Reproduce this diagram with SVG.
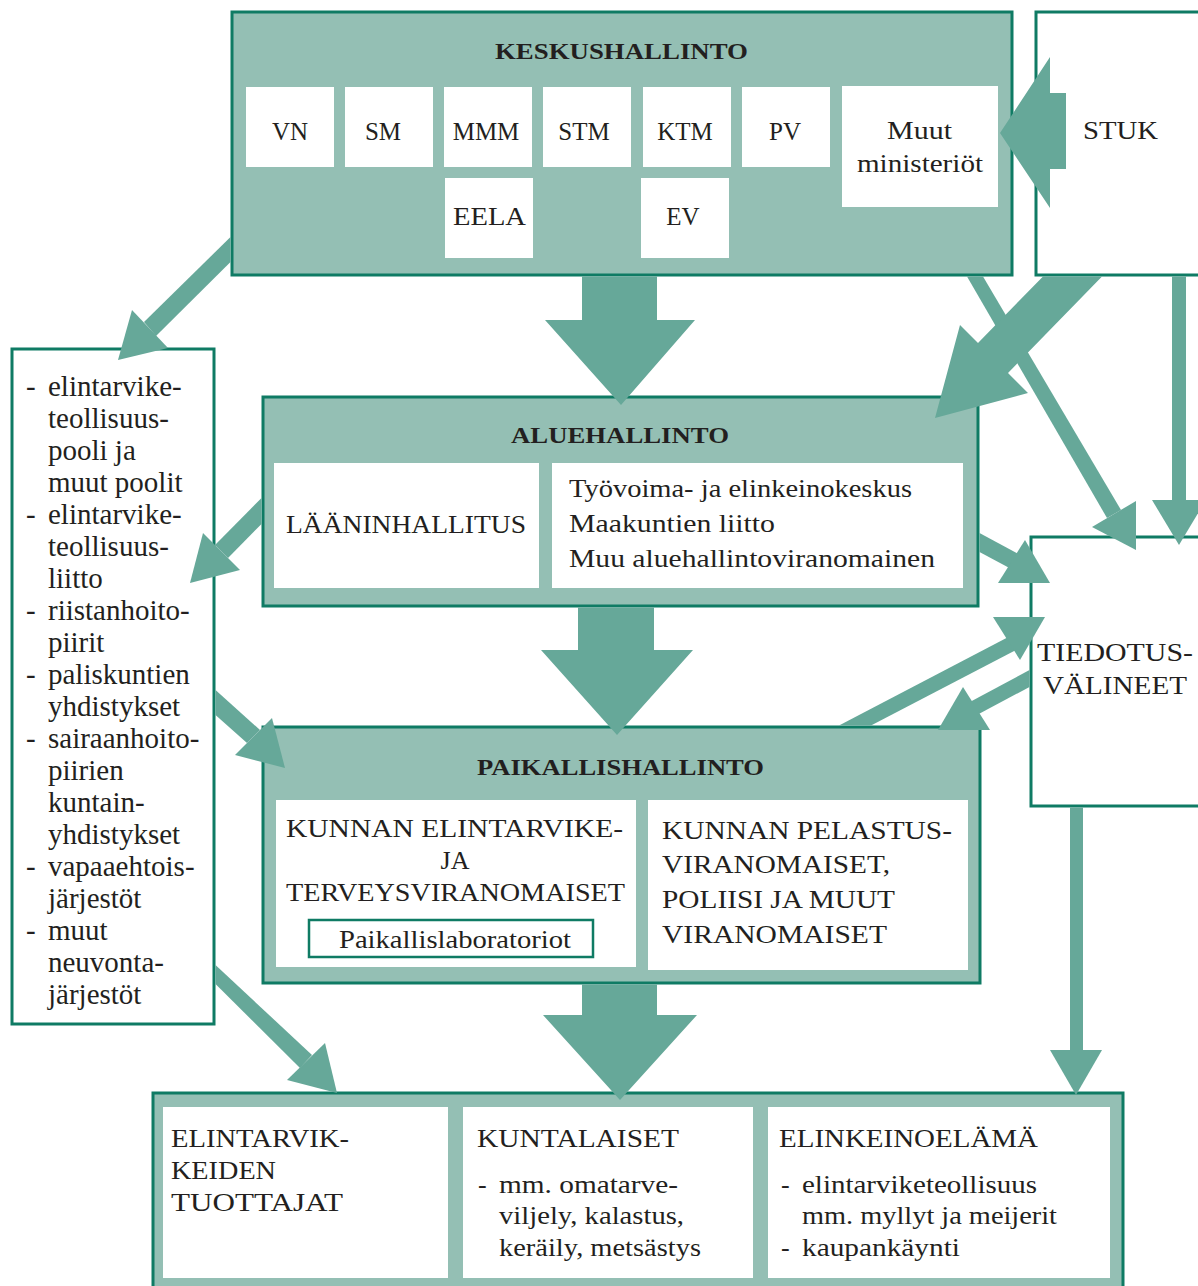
<svg xmlns="http://www.w3.org/2000/svg" width="1198" height="1286" viewBox="0 0 1198 1286" font-family="'Liberation Serif', 'Times New Roman', serif">
<style>
.panel{fill:#94bfb4;stroke:#0f7b64;stroke-width:3}
.wbox{fill:#ffffff;stroke:#0f7b64;stroke-width:3}
.inner{fill:#ffffff}
.arrow{fill:#66a899}
text{font-family:"Liberation Serif","Times New Roman",serif;fill:#231f20}
.t{font-size:24px;font-weight:bold}
.m{font-size:25px}
.s{font-size:26px}
.l{font-size:29px}
.c{text-anchor:middle}
</style>
<rect width="1198" height="1286" fill="#ffffff"/>

<g id="keskushallinto">
<rect class="panel" x="232" y="12" width="780" height="263"/>
<text class="t" x="495" y="59" textLength="253" lengthAdjust="spacingAndGlyphs">KESKUSHALLINTO</text>
<g id="vn"><rect class="inner" x="246" y="87" width="88" height="80"/><text class="m c" x="290" y="140">VN</text></g>
<g id="sm"><rect class="inner" x="345" y="87" width="88" height="80"/><text class="m c" x="383" y="140">SM</text></g>
<g id="mmm"><rect class="inner" x="444" y="87" width="88" height="80"/><text class="m c" x="486" y="140">MMM</text></g>
<g id="stm"><rect class="inner" x="543" y="87" width="88" height="80"/><text class="m c" x="584" y="140">STM</text></g>
<g id="ktm"><rect class="inner" x="643" y="87" width="88" height="80"/><text class="m c" x="685" y="140">KTM</text></g>
<g id="pv"><rect class="inner" x="742" y="87" width="88" height="80"/><text class="m c" x="785" y="140">PV</text></g>
<g id="muut"><rect class="inner" x="842" y="86" width="156" height="121"/><text class="m" x="887" y="139" textLength="65" lengthAdjust="spacingAndGlyphs">Muut</text><text class="m" x="857" y="172" textLength="126" lengthAdjust="spacingAndGlyphs">ministeriöt</text></g>
<g id="eela"><rect class="inner" x="445" y="178" width="88" height="80"/><text class="m" x="453" y="225" textLength="73" lengthAdjust="spacingAndGlyphs">EELA</text></g>
<g id="ev"><rect class="inner" x="641" y="178" width="88" height="80"/><text class="m c" x="683" y="225">EV</text></g>
</g>

<g id="stuk">
<rect class="wbox" x="1036" y="12" width="175" height="263"/>
<text class="m" x="1083" y="139" textLength="75" lengthAdjust="spacingAndGlyphs">STUK</text>
</g>

<g id="aluehallinto">
<rect class="panel" x="263" y="397" width="715" height="209"/>
<text class="t" x="511" y="443" textLength="218" lengthAdjust="spacingAndGlyphs">ALUEHALLINTO</text>
<rect class="inner" x="274" y="463" width="265" height="125"/>
<text class="m" x="286" y="533" textLength="240" lengthAdjust="spacingAndGlyphs">LÄÄNINHALLITUS</text>
<rect class="inner" x="552" y="463" width="411" height="125"/>
<text class="s" x="569" y="497" textLength="343" lengthAdjust="spacingAndGlyphs">Työvoima- ja elinkeinokeskus</text>
<text class="s" x="569" y="532" textLength="206" lengthAdjust="spacingAndGlyphs">Maakuntien liitto</text>
<text class="s" x="569" y="567" textLength="366" lengthAdjust="spacingAndGlyphs">Muu aluehallintoviranomainen</text>
</g>

<g id="paikallishallinto">
<rect class="panel" x="263" y="727" width="717" height="256"/>
<text class="t" x="477" y="775" textLength="287" lengthAdjust="spacingAndGlyphs">PAIKALLISHALLINTO</text>
<rect class="inner" x="276" y="800" width="360" height="167"/>
<text class="s" x="286" y="837" textLength="337" lengthAdjust="spacingAndGlyphs">KUNNAN ELINTARVIKE-</text>
<text class="s c" x="455" y="869">JA</text>
<text class="s" x="286" y="901" textLength="339" lengthAdjust="spacingAndGlyphs">TERVEYSVIRANOMAISET</text>
<rect x="309" y="920" width="284" height="37" fill="#ffffff" stroke="#0f7b64" stroke-width="2.5"/>
<text class="m" x="339" y="948" textLength="232" lengthAdjust="spacingAndGlyphs">Paikallislaboratoriot</text>
<rect class="inner" x="648" y="800" width="320" height="170"/>
<text class="s" x="662" y="839" textLength="290" lengthAdjust="spacingAndGlyphs">KUNNAN PELASTUS-</text>
<text class="s" x="662" y="873" textLength="228" lengthAdjust="spacingAndGlyphs">VIRANOMAISET,</text>
<text class="s" x="662" y="908" textLength="233" lengthAdjust="spacingAndGlyphs">POLIISI JA MUUT</text>
<text class="s" x="662" y="943" textLength="225" lengthAdjust="spacingAndGlyphs">VIRANOMAISET</text>
</g>

<g id="tiedotusvalineet">
<rect class="wbox" x="1031" y="537" width="180" height="269"/>
<text class="s" x="1037" y="661" textLength="156" lengthAdjust="spacingAndGlyphs">TIEDOTUS-</text>
<text class="s" x="1043" y="694" textLength="144" lengthAdjust="spacingAndGlyphs">VÄLINEET</text>
</g>

<g id="jarjestot">
<rect class="wbox" x="12" y="349" width="202" height="675"/>
<g class="l">
<text x="26" y="396">-</text><text x="48" y="396">elintarvike-</text>
<text x="48" y="428">teollisuus-</text>
<text x="48" y="460">pooli ja</text>
<text x="48" y="492">muut poolit</text>
<text x="26" y="524">-</text><text x="48" y="524">elintarvike-</text>
<text x="48" y="556">teollisuus-</text>
<text x="48" y="588">liitto</text>
<text x="26" y="620">-</text><text x="48" y="620">riistanhoito-</text>
<text x="48" y="652">piirit</text>
<text x="26" y="684">-</text><text x="48" y="684">paliskuntien</text>
<text x="48" y="716">yhdistykset</text>
<text x="26" y="748">-</text><text x="48" y="748">sairaanhoito-</text>
<text x="48" y="780">piirien</text>
<text x="48" y="812">kuntain-</text>
<text x="48" y="844">yhdistykset</text>
<text x="26" y="876">-</text><text x="48" y="876">vapaaehtois-</text>
<text x="48" y="908">järjestöt</text>
<text x="26" y="940">-</text><text x="48" y="940">muut</text>
<text x="48" y="972">neuvonta-</text>
<text x="48" y="1004">järjestöt</text>
</g>
</g>

<g id="kohderyhmat">
<rect class="panel" x="153" y="1093" width="970" height="215"/>
<g id="tuottajat">
<rect class="inner" x="163" y="1107" width="285" height="171"/>
<text class="s" x="171" y="1147" textLength="178" lengthAdjust="spacingAndGlyphs">ELINTARVIK-</text>
<text class="s" x="171" y="1179" textLength="105" lengthAdjust="spacingAndGlyphs">KEIDEN</text>
<text class="s" x="171" y="1211" textLength="172" lengthAdjust="spacingAndGlyphs">TUOTTAJAT</text>
</g>
<g id="kuntalaiset">
<rect class="inner" x="463" y="1107" width="290" height="171"/>
<text class="s" x="477" y="1147" textLength="202" lengthAdjust="spacingAndGlyphs">KUNTALAISET</text>
<text class="s" x="478" y="1193">-</text>
<text class="s" x="499" y="1193" textLength="179" lengthAdjust="spacingAndGlyphs">mm. omatarve-</text>
<text class="s" x="499" y="1224" textLength="185" lengthAdjust="spacingAndGlyphs">viljely, kalastus,</text>
<text class="s" x="499" y="1256" textLength="202" lengthAdjust="spacingAndGlyphs">keräily, metsästys</text>
</g>
<g id="elinkeinoelama">
<rect class="inner" x="768" y="1107" width="342" height="171"/>
<text class="s" x="779" y="1147" textLength="259" lengthAdjust="spacingAndGlyphs">ELINKEINOELÄMÄ</text>
<text class="s" x="781" y="1193">-</text>
<text class="s" x="802" y="1193" textLength="235" lengthAdjust="spacingAndGlyphs">elintarviketeollisuus</text>
<text class="s" x="802" y="1224" textLength="255" lengthAdjust="spacingAndGlyphs">mm. myllyt ja meijerit</text>
<text class="s" x="781" y="1256">-</text>
<text class="s" x="802" y="1256" textLength="158" lengthAdjust="spacingAndGlyphs">kaupankäynti</text>
</g>
</g>

<g id="connectors" class="arrow">
<polygon points="1066,93 1066,169 1050,169 1050,208 1000,133 1050,57 1050,93"/>
<polygon points="582,276.5 657,276.5 657,320 695,320 621,405 545,320 582,320"/>
<polygon points="578,607.5 654,607.5 654,650 693,650 617,735 541,650 578,650"/>
<polygon points="582,984.5 657,984.5 657,1015 697,1015 620,1100 543,1015 582,1015"/>
<polygon points="230.5,237 230.5,262 156,336 144,322"/>
<polygon points="118,360 132,310 168,348"/>
<polygon points="261.5,498 261.5,524 228,558 215,545"/>
<polygon points="190,583 203,533 240,570"/>
<polygon points="215.5,690 215.5,715 247,743 260,730"/>
<polygon points="285,768 272,718 235,755"/>
<polygon points="215.5,965 215.5,984 300,1068 312,1055"/>
<polygon points="325,1043 287,1080 337,1093"/>
<polygon points="967,276.5 983,276.5 1121,510 1107,518"/>
<polygon points="1092,527 1136,501 1136,550"/>
<polygon points="1043,276.5 1102,276.5 1008,373 1028,393 935,418 960,325 978,343"/>
<rect x="1172" y="276.5" width="14" height="224"/>
<polygon points="1152,500 1206,500 1179,545"/>
<polygon points="979.5,533 979.5,552 1015,571 1022,556"/>
<polygon points="1025,540 998,583 1050,583"/>
<polygon points="839,725.5 871,725.5 1016,650 1016,633"/>
<polygon points="993,617 1045,617 1020,660"/>
<polygon points="1029.5,670 1029.5,687 975,716 968,703"/>
<polygon points="963,687 938,730 990,730"/>
<rect x="1070" y="807.5" width="13" height="243"/>
<polygon points="1050,1050 1102,1050 1076,1095"/>
</g>
</svg>
